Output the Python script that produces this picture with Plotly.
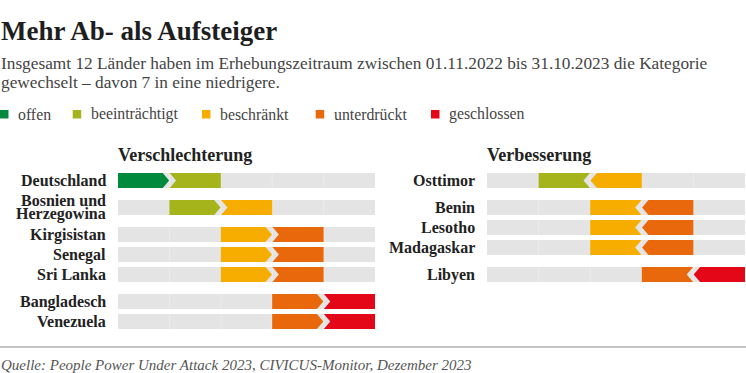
import plotly.graph_objects as go

# ---------------- data ----------------
categories = ["offen", "beeinträchtigt", "beschränkt", "unterdrückt", "geschlossen"]
category_colors = ["#008a3e", "#a6b41c", "#f6ad00", "#ea680c", "#e30718"]

worse_countries = ["Deutschland", "Bosnien und<br>Herzegowina", "Kirgisistan", "Senegal",
                   "Sri Lanka", "Bangladesch", "Venezuela"]
worse_from = ["offen", "beeinträchtigt", "beschränkt", "beschränkt", "beschränkt",
              "unterdrückt", "unterdrückt"]
worse_to = ["beeinträchtigt", "beschränkt", "unterdrückt", "unterdrückt", "unterdrückt",
            "geschlossen", "geschlossen"]

better_countries = ["Osttimor", "Benin", "Lesotho", "Madagaskar", "Libyen"]
better_from = ["beschränkt", "unterdrückt", "unterdrückt", "unterdrückt", "geschlossen"]
better_to = ["beeinträchtigt", "beschränkt", "beschränkt", "beschränkt", "unterdrückt"]

title_text = "Mehr Ab- als Aufsteiger"
subtitle_lines = ["Insgesamt 12 Länder haben im Erhebungszeitraum zwischen 01.11.2022 bis 31.10.2023 die Kategorie",
                  "gewechselt – davon 7 in eine niedrigere."]
panel_titles = ["Verschlechterung", "Verbesserung"]
source_text = "Quelle: People Power Under Attack 2023, CIVICUS-Monitor, Dezember 2023"

# ---------------- layout constants ----------------
W, H = 746, 373
FONT = "Liberation Serif"
ROW_STEP, GROUP_STEP = 1.0, 1.35
HH = 0.375          # half bar height (y units)
DEPTH, GAP = 0.125, 0.135   # chevron depth / gap (x units)
Y0_PX, PX_PER_Y = 180.5, 20.0


def px_to_paper_y(py):
    return 1 - py / H


def row_positions(frm, to):
    pos, cur = [], 0.0
    for i in range(len(frm)):
        if i > 0:
            same = frm[i] == frm[i - 1] and to[i] == to[i - 1]
            cur += ROW_STEP if same else GROUP_STEP
        pos.append(cur)
    return pos


def poly(points):
    return "M " + " L ".join(f"{x},{y}" for x, y in points) + " Z"


fig = go.Figure()
shapes, annotations = [], []


def add_panel(xref, countries, frm, to):
    ys = row_positions(frm, to)
    for name, f, t, y in zip(countries, frm, to, ys):
        fi, ti = categories.index(f), categories.index(t)
        # background bar
        shapes.append(dict(type="rect", xref=xref, yref="y", x0=0, x1=len(categories),
                           y0=y - HH, y1=y + HH, fillcolor="#e4e4e4", line_width=0, layer="below"))
        for k in range(1, len(categories)):
            shapes.append(dict(type="line", xref=xref, yref="y", x0=k, x1=k, y0=y - HH, y1=y + HH,
                               line=dict(color="#ececec", width=1), layer="below"))
        top, bot = y - HH, y + HH
        if ti > fi:  # arrow pointing right
            b = ti
            src = [(fi, top), (b - DEPTH / 2 - GAP / 2, top), (b + DEPTH / 2 - GAP / 2, y),
                   (b - DEPTH / 2 - GAP / 2, bot), (fi, bot)]
            dst = [(b - DEPTH / 2 + GAP / 2, top), (ti + 1, top), (ti + 1, bot),
                   (b - DEPTH / 2 + GAP / 2, bot), (b + DEPTH / 2 + GAP / 2, y)]
        else:        # arrow pointing left
            b = fi
            src = [(fi + 1, top), (b + DEPTH / 2 + GAP / 2, top), (b - DEPTH / 2 + GAP / 2, y),
                   (b + DEPTH / 2 + GAP / 2, bot), (fi + 1, bot)]
            dst = [(ti, top), (b + DEPTH / 2 - GAP / 2, top), (b - DEPTH / 2 - GAP / 2, y),
                   (b + DEPTH / 2 - GAP / 2, bot), (ti, bot)]
        shapes.append(dict(type="path", xref=xref, yref="y", path=poly(src),
                           fillcolor=category_colors[fi], line_width=0))
        shapes.append(dict(type="path", xref=xref, yref="y", path=poly(dst),
                           fillcolor=category_colors[ti], line_width=0))
        # label
        lines = name.split("<br>")
        n = len(lines)
        for j, ln in enumerate(lines):
            off = (j - (n - 1) / 2) * 0.68
            annotations.append(dict(xref=xref, yref="y", x=0, y=y + off, text=f"<b>{ln}</b>",
                                    xanchor="right", yanchor="middle", xshift=-10, showarrow=False,
                                    font=dict(family=FONT, size=16, color="#222")))


add_panel("x", worse_countries, worse_from, worse_to)
add_panel("x2", better_countries, better_from, better_to)

# invisible traces so axes exist
fig.add_trace(go.Scatter(x=[0, 5], y=[0, 0], xaxis="x", yaxis="y", mode="markers",
                         marker=dict(opacity=0), hoverinfo="skip", showlegend=False))
fig.add_trace(go.Scatter(x=[0, 5], y=[0, 0], xaxis="x2", yaxis="y", mode="markers",
                         marker=dict(opacity=0), hoverinfo="skip", showlegend=False))

# panel titles
for xref, t in zip(["x", "x2"], panel_titles):
    annotations.append(dict(xref=xref, yref="paper", x=0, y=px_to_paper_y(155), text=f"<b>{t}</b>",
                            xanchor="left", yanchor="middle", showarrow=False, xshift=-2,
                            font=dict(family=FONT, size=18, color="#222")))

# title & subtitle
annotations.append(dict(xref="paper", yref="paper", x=0, y=px_to_paper_y(31), text=f"<b>{title_text}</b>",
                        xanchor="left", yanchor="middle", showarrow=False, xshift=-1,
                        font=dict(family=FONT, size=27, color="#1e1e1e")))
for i, ln in enumerate(subtitle_lines):
    annotations.append(dict(xref="paper", yref="paper", x=0, y=px_to_paper_y(63 + 19.5 * i), text=ln,
                            xanchor="left", yanchor="middle", showarrow=False, xshift=-1,
                            font=dict(family=FONT, size=17.3, color="#444")))

# legend
legend_x = [0, 72.7, 202, 315.7, 431]
for cat, col, lx in zip(categories, category_colors, legend_x):
    shapes.append(dict(type="rect", xref="paper", yref="paper", x0=lx / W, x1=(lx + 8.5) / W,
                       y0=px_to_paper_y(118.5), y1=px_to_paper_y(110), fillcolor=col, line_width=0))
    annotations.append(dict(xref="paper", yref="paper", x=(lx + 17) / W, y=px_to_paper_y(114), text=cat,
                            xanchor="left", yanchor="middle", showarrow=False, xshift=-1,
                            font=dict(family=FONT, size=15.8, color="#444")))

# footer
shapes.append(dict(type="line", xref="paper", yref="paper", x0=0, x1=1,
                   y0=px_to_paper_y(347), y1=px_to_paper_y(347), line=dict(color="#8a8a8a", width=1)))
annotations.append(dict(xref="paper", yref="paper", x=0, y=px_to_paper_y(365), text=f"<i>{source_text}</i>",
                        xanchor="left", yanchor="middle", showarrow=False, xshift=-1,
                        font=dict(family=FONT, size=15, color="#555")))

fig.update_layout(
    width=W, height=H, margin=dict(l=0, r=0, t=0, b=0),
    paper_bgcolor="white", plot_bgcolor="white", showlegend=False,
    xaxis=dict(domain=[118 / W, 375 / W], range=[0, 5], visible=False, fixedrange=True),
    xaxis2=dict(domain=[487 / W, 745 / W], range=[0, 5], visible=False, fixedrange=True, anchor="y"),
    yaxis=dict(domain=[0, 1], range=[(H - Y0_PX) / PX_PER_Y, -Y0_PX / PX_PER_Y],
               visible=False, fixedrange=True),
    shapes=shapes, annotations=annotations,
)

fig.write_html("out.html", config={"displayModeBar": False},
               post_script="document.body.style.margin='0';document.body.style.overflow='hidden';")
